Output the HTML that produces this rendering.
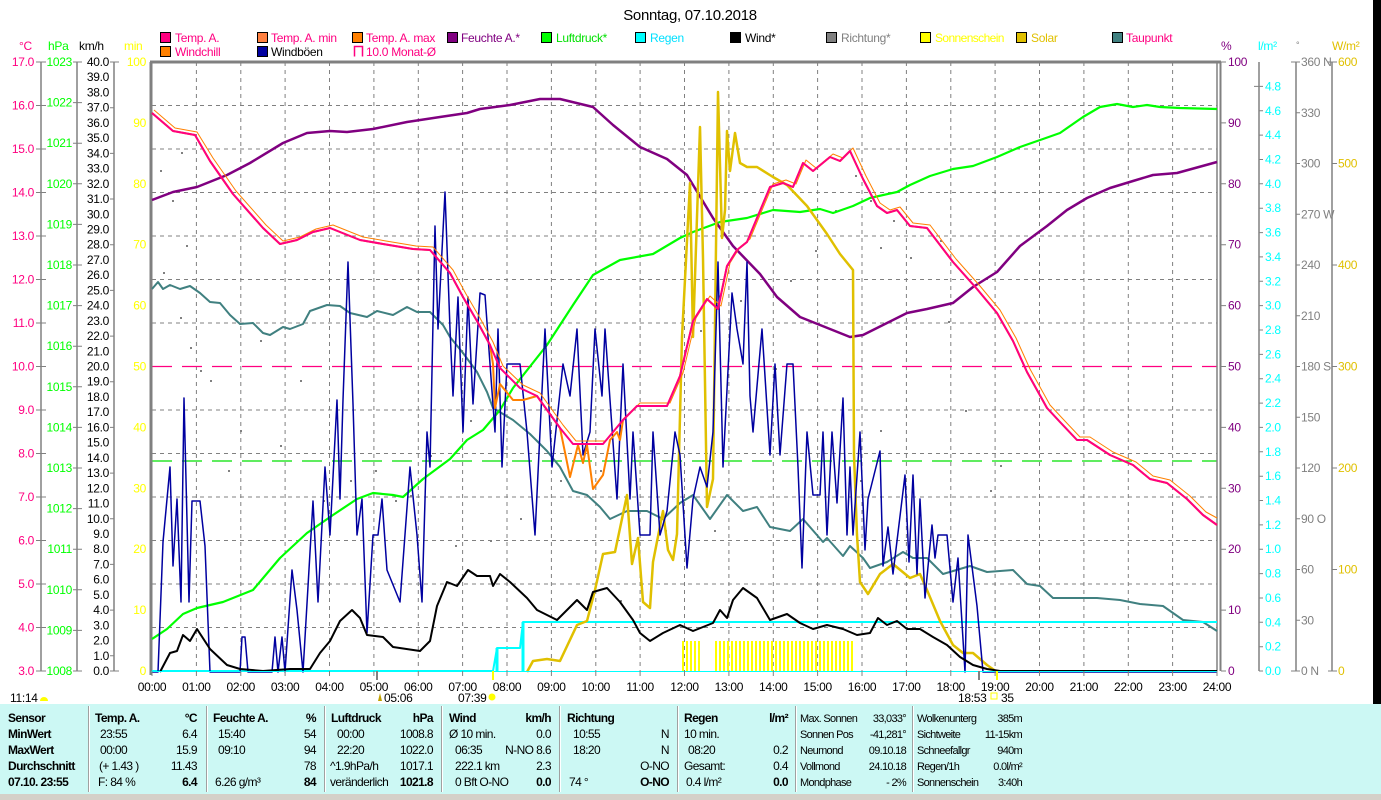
<!DOCTYPE html>
<html><head><meta charset="utf-8"><style>
html,body{margin:0;padding:0;background:#fff}
svg{display:block;font-family:"Liberation Sans",sans-serif;letter-spacing:-0.3px}
.tb{letter-spacing:-0.6px}
</style></head><body>
<svg width="1381" height="800" viewBox="0 0 1381 800" xmlns="http://www.w3.org/2000/svg">
<rect width="1381" height="800" fill="#fff"/>
<rect x="1373" y="0" width="8" height="704" fill="#000"/>
<text x="690" y="20" font-size="15" text-anchor="middle" fill="#000">Sonntag, 07.10.2018</text>

<!-- legend -->
<g font-size="12">
<rect x="160.5" y="32.5" width="10" height="10" fill="#FF0080" stroke="#000"/><text x="175" y="42" fill="#FF0080">Temp. A.</text>
<rect x="257.5" y="32.5" width="10" height="10" fill="#FF8040" stroke="#000"/><text x="271" y="42" fill="#FF0080">Temp. A. min</text>
<rect x="352.5" y="32.5" width="10" height="10" fill="#FF8000" stroke="#000"/><text x="366" y="42" fill="#FF0080">Temp. A. max</text>
<rect x="447.5" y="32.5" width="10" height="10" fill="#800080" stroke="#000"/><text x="461" y="42" fill="#800080">Feuchte A.*</text>
<rect x="541.5" y="32.5" width="10" height="10" fill="#00FF00" stroke="#000"/><text x="556" y="42" fill="#00E000">Luftdruck*</text>
<rect x="635.5" y="32.5" width="10" height="10" fill="#00FFFF" stroke="#000"/><text x="650" y="42" fill="#00E0FF">Regen</text>
<rect x="730.5" y="32.5" width="10" height="10" fill="#000" stroke="#000"/><text x="745" y="42" fill="#000">Wind*</text>
<rect x="826.5" y="32.5" width="10" height="10" fill="#808080" stroke="#000"/><text x="841" y="42" fill="#808080">Richtung*</text>
<rect x="920.5" y="32.5" width="10" height="10" fill="#FFFF00" stroke="#000"/><text x="935" y="42" fill="#FFFF00" class="tb">Sonnenschein</text>
<rect x="1016.5" y="32.5" width="10" height="10" fill="#E0C000" stroke="#000"/><text x="1031" y="42" fill="#E0C000">Solar</text>
<rect x="1112.5" y="32.5" width="10" height="10" fill="#408080" stroke="#000"/><text x="1126" y="42" fill="#FF0080">Taupunkt</text>
<rect x="160.5" y="46.5" width="10" height="10" fill="#FF8000" stroke="#000"/><text x="175" y="56" fill="#FF0080">Windchill</text>
<rect x="257.5" y="46.5" width="10" height="10" fill="#0000A0" stroke="#000"/><text x="271" y="56" fill="#000">Windböen</text>
<path d="M354.5 56.5 V46.5 H362.5 V56.5" fill="none" stroke="#FF0080" stroke-width="1.5"/><text x="366" y="56" fill="#FF0080">10.0 Monat-Ø</text>
</g>

<!-- unit headers -->
<g font-size="12">
<text x="19" y="50" fill="#FF0080">°C</text>
<text x="48" y="50" fill="#00FF00">hPa</text>
<text x="79" y="50" fill="#000">km/h</text>
<text x="124" y="50" fill="#FFFF00">min</text>
<text x="1221" y="50" fill="#800080">%</text>
<text x="1258" y="50" fill="#00FFFF">l/m²</text>
<text x="1296" y="48" fill="#808080" font-size="9">°</text>
<text x="1332" y="50" fill="#E0C000">W/m²</text>
</g>

<!-- axis lines -->
<g stroke="#808080" stroke-width="1.5">
<line x1="41" y1="62" x2="41" y2="671"/>
<line x1="77" y1="62" x2="77" y2="671"/>
<line x1="114" y1="62" x2="114" y2="671"/>
<line x1="1259" y1="62" x2="1259" y2="671"/>
<line x1="1296" y1="62" x2="1296" y2="671"/>
<line x1="1332" y1="62" x2="1332" y2="671"/>
</g>

<!-- grid -->
<g stroke="#808080" stroke-width="1" stroke-dasharray="4,4">
<line x1="152" y1="105.5" x2="1217" y2="105.5"/><line x1="152" y1="149" x2="1217" y2="149"/>
<line x1="152" y1="192.5" x2="1217" y2="192.5"/><line x1="152" y1="236" x2="1217" y2="236"/>
<line x1="152" y1="279.5" x2="1217" y2="279.5"/><line x1="152" y1="323" x2="1217" y2="323"/>
<line x1="152" y1="410" x2="1217" y2="410"/><line x1="152" y1="453.5" x2="1217" y2="453.5"/>
<line x1="152" y1="497" x2="1217" y2="497"/><line x1="152" y1="540.5" x2="1217" y2="540.5"/>
<line x1="152" y1="584" x2="1217" y2="584"/><line x1="152" y1="627.5" x2="1217" y2="627.5"/>
<line x1="196.4" y1="62" x2="196.4" y2="671"/><line x1="240.8" y1="62" x2="240.8" y2="671"/>
<line x1="285.1" y1="62" x2="285.1" y2="671"/><line x1="329.5" y1="62" x2="329.5" y2="671"/>
<line x1="373.9" y1="62" x2="373.9" y2="671"/><line x1="418.3" y1="62" x2="418.3" y2="671"/>
<line x1="462.6" y1="62" x2="462.6" y2="671"/><line x1="507" y1="62" x2="507" y2="671"/>
<line x1="551.4" y1="62" x2="551.4" y2="671"/><line x1="595.8" y1="62" x2="595.8" y2="671"/>
<line x1="640.1" y1="62" x2="640.1" y2="671"/><line x1="684.5" y1="62" x2="684.5" y2="671"/>
<line x1="728.9" y1="62" x2="728.9" y2="671"/><line x1="773.3" y1="62" x2="773.3" y2="671"/>
<line x1="817.6" y1="62" x2="817.6" y2="671"/><line x1="862" y1="62" x2="862" y2="671"/>
<line x1="906.4" y1="62" x2="906.4" y2="671"/><line x1="950.8" y1="62" x2="950.8" y2="671"/>
<line x1="995.1" y1="62" x2="995.1" y2="671"/><line x1="1039.5" y1="62" x2="1039.5" y2="671"/>
<line x1="1083.9" y1="62" x2="1083.9" y2="671"/><line x1="1128.3" y1="62" x2="1128.3" y2="671"/>
<line x1="1172.6" y1="62" x2="1172.6" y2="671"/>
</g>
<line x1="152" y1="366.5" x2="1217" y2="366.5" stroke="#FF0080" stroke-width="1.2" stroke-dasharray="20,10"/>
<line x1="152" y1="461" x2="1217" y2="461" stroke="#00E000" stroke-width="1.2" stroke-dasharray="20,10"/>

<!-- frame -->
<g stroke="#808080">
<line x1="150" y1="62" x2="1221" y2="62" stroke-width="3"/>
<line x1="151" y1="62" x2="151" y2="675" stroke-width="3"/>
<line x1="1217" y1="62" x2="1217" y2="671" stroke-width="1.5"/>
<line x1="1220.5" y1="62" x2="1220.5" y2="671" stroke-width="2"/>
</g>

<!-- left tick labels -->
<g font-size="12" text-anchor="end">
<g fill="#FF0080">
<text x="34" y="66">17.0</text><text x="34" y="109.5">16.0</text><text x="34" y="153">15.0</text><text x="34" y="196.5">14.0</text><text x="34" y="240">13.0</text><text x="34" y="283.5">12.0</text><text x="34" y="327">11.0</text><text x="34" y="370.5">10.0</text><text x="34" y="414">9.0</text><text x="34" y="457.5">8.0</text><text x="34" y="501">7.0</text><text x="34" y="544.5">6.0</text><text x="34" y="588">5.0</text><text x="34" y="631.5">4.0</text><text x="34" y="675">3.0</text>
</g>
<g fill="#00FF00">
<text x="72" y="66">1023</text><text x="72" y="106.6">1022</text><text x="72" y="147.2">1021</text><text x="72" y="187.8">1020</text><text x="72" y="228.4">1019</text><text x="72" y="269">1018</text><text x="72" y="309.6">1017</text><text x="72" y="350.2">1016</text><text x="72" y="390.8">1015</text><text x="72" y="431.4">1014</text><text x="72" y="472">1013</text><text x="72" y="512.6">1012</text><text x="72" y="553.2">1011</text><text x="72" y="593.8">1010</text><text x="72" y="634.4">1009</text><text x="72" y="675">1008</text>
</g>
<g fill="#000">
<text x="109" y="66">40.0</text><text x="109" y="81.2">39.0</text><text x="109" y="96.5">38.0</text><text x="109" y="111.7">37.0</text><text x="109" y="126.9">36.0</text><text x="109" y="142.1">35.0</text><text x="109" y="157.4">34.0</text><text x="109" y="172.6">33.0</text><text x="109" y="187.8">32.0</text><text x="109" y="203">31.0</text><text x="109" y="218.3">30.0</text><text x="109" y="233.5">29.0</text><text x="109" y="248.7">28.0</text><text x="109" y="263.9">27.0</text><text x="109" y="279.2">26.0</text><text x="109" y="294.4">25.0</text><text x="109" y="309.6">24.0</text><text x="109" y="324.8">23.0</text><text x="109" y="340.1">22.0</text><text x="109" y="355.3">21.0</text><text x="109" y="370.5">20.0</text><text x="109" y="385.7">19.0</text><text x="109" y="401">18.0</text><text x="109" y="416.2">17.0</text><text x="109" y="431.4">16.0</text><text x="109" y="446.6">15.0</text><text x="109" y="461.9">14.0</text><text x="109" y="477.1">13.0</text><text x="109" y="492.3">12.0</text><text x="109" y="507.5">11.0</text><text x="109" y="522.8">10.0</text><text x="109" y="538">9.0</text><text x="109" y="553.2">8.0</text><text x="109" y="568.4">7.0</text><text x="109" y="583.7">6.0</text><text x="109" y="598.9">5.0</text><text x="109" y="614.1">4.0</text><text x="109" y="629.3">3.0</text><text x="109" y="644.6">2.0</text><text x="109" y="659.8">1.0</text><text x="109" y="675">0.0</text>
</g>
<g fill="#FFFF00">
<text x="146" y="66">100</text><text x="146" y="126.9">90</text><text x="146" y="187.8">80</text><text x="146" y="248.7">70</text><text x="146" y="309.6">60</text><text x="146" y="370.5">50</text><text x="146" y="431.4">40</text><text x="146" y="492.3">30</text><text x="146" y="553.2">20</text><text x="146" y="614.1">10</text><text x="146" y="675">0</text>
</g>
</g>
<g stroke="#808080" stroke-width="1">
<path d="M36 62h10M36 105.5h10M36 149h10M36 192.5h10M36 236h10M36 279.5h10M36 323h10M36 366.5h10M36 410h10M36 453.5h10M36 497h10M36 540.5h10M36 584h10M36 627.5h10M36 671h10"/>
<path d="M73 62h9M73 102.6h9M73 143.2h9M73 183.8h9M73 224.4h9M73 265h9M73 305.6h9M73 346.2h9M73 386.8h9M73 427.4h9M73 468h9M73 508.6h9M73 549.2h9M73 589.8h9M73 630.4h9M73 671h9"/>
<path d="M110 62h9M110 107.7h4M110 153.4h4M110 199h4M110 244.7h4M110 290.4h4M110 336.1h4M110 381.7h4M110 427.4h4M110 473.1h4M110 518.8h4M110 564.4h4M110 610.1h4M110 655.8h4M110 671h9"/>
</g>

<!-- right tick labels -->
<g font-size="12">
<g fill="#800080">
<text x="1228" y="66">100</text><text x="1228" y="126.9">90</text><text x="1228" y="187.8">80</text><text x="1228" y="248.7">70</text><text x="1228" y="309.6">60</text><text x="1228" y="370.5">50</text><text x="1228" y="431.4">40</text><text x="1228" y="492.3">30</text><text x="1228" y="553.2">20</text><text x="1228" y="614.1">10</text><text x="1228" y="675">0</text>
</g>
<g fill="#00FFFF">
<text x="1265" y="90.4">4.8</text><text x="1265" y="114.8">4.6</text><text x="1265" y="139.1">4.4</text><text x="1265" y="163.5">4.2</text><text x="1265" y="187.8">4.0</text><text x="1265" y="212.2">3.8</text><text x="1265" y="236.6">3.6</text><text x="1265" y="260.9">3.4</text><text x="1265" y="285.3">3.2</text><text x="1265" y="309.6">3.0</text><text x="1265" y="334">2.8</text><text x="1265" y="358.4">2.6</text><text x="1265" y="382.7">2.4</text><text x="1265" y="407.1">2.2</text><text x="1265" y="431.4">2.0</text><text x="1265" y="455.8">1.8</text><text x="1265" y="480.2">1.6</text><text x="1265" y="504.5">1.4</text><text x="1265" y="528.9">1.2</text><text x="1265" y="553.2">1.0</text><text x="1265" y="577.6">0.8</text><text x="1265" y="602">0.6</text><text x="1265" y="626.3">0.4</text><text x="1265" y="650.7">0.2</text><text x="1265" y="675">0.0</text>
</g>
<g fill="#808080">
<text x="1301" y="66">360 N</text><text x="1301" y="116.8">330</text><text x="1301" y="167.5">300</text><text x="1301" y="218.3">270 W</text><text x="1301" y="269">240</text><text x="1301" y="319.8">210</text><text x="1301" y="370.5">180 S</text><text x="1301" y="421.3">150</text><text x="1301" y="472">120</text><text x="1301" y="522.8">90  O</text><text x="1301" y="573.5">60</text><text x="1301" y="624.3">30</text><text x="1301" y="675">0   N</text>
</g>
<g fill="#E0C000">
<text x="1338" y="66">600</text><text x="1338" y="167.5">500</text><text x="1338" y="269">400</text><text x="1338" y="370.5">300</text><text x="1338" y="472">200</text><text x="1338" y="573.5">100</text><text x="1338" y="675">0</text>
</g>
</g>
<g stroke="#808080" stroke-width="1">
<path d="M1221 62h5M1221 122.9h5M1221 183.8h5M1221 244.7h5M1221 305.6h5M1221 366.5h5M1221 427.4h5M1221 488.3h5M1221 549.2h5M1221 610.1h5M1221 671h5"/>
<path d="M1254 86.4h9M1259 110.8h4M1259 135.1h4M1259 159.5h4M1259 183.8h4M1259 208.2h4M1259 232.6h4M1259 256.9h4M1259 281.3h4M1259 305.6h4M1259 330h4M1259 354.4h4M1259 378.7h4M1259 403.1h4M1259 427.4h4M1259 451.8h4M1259 476.2h4M1259 500.5h4M1259 524.9h4M1259 549.2h4M1259 573.6h4M1259 598h4M1259 622.3h4M1259 646.7h4M1259 671h4"/>
<path d="M1291 62h9M1296 112.75h4M1296 163.5h4M1296 214.25h4M1296 265h4M1296 315.75h4M1296 366.5h4M1296 417.25h4M1296 468h4M1296 518.75h4M1296 569.5h4M1296 620.25h4M1291 671h9"/>
<path d="M1328 62h9M1332 163.5h5M1332 265h5M1332 366.5h5M1332 468h5M1332 569.5h5M1328 671h9"/>
</g>

<!-- direction dots -->
<g fill="#808080">
<rect x="160" y="170" width="2" height="2"/><rect x="172" y="200" width="2" height="2"/><rect x="181" y="152" width="2" height="2"/><rect x="163" y="272" width="2" height="2"/><rect x="186" y="245" width="2" height="2"/><rect x="180" y="317" width="2" height="2"/><rect x="190" y="347" width="2" height="2"/><rect x="200" y="370" width="2" height="2"/><rect x="210" y="380" width="2" height="2"/><rect x="228" y="470" width="2" height="2"/><rect x="240" y="430" width="2" height="2"/><rect x="260" y="340" width="2" height="2"/><rect x="280" y="445" width="2" height="2"/><rect x="300" y="380" width="2" height="2"/><rect x="323" y="500" width="2" height="2"/><rect x="350" y="480" width="2" height="2"/><rect x="375" y="470" width="2" height="2"/><rect x="395" y="500" width="2" height="2"/><rect x="410" y="495" width="2" height="2"/><rect x="430" y="455" width="2" height="2"/><rect x="455" y="545" width="2" height="2"/><rect x="470" y="420" width="2" height="2"/><rect x="490" y="540" width="2" height="2"/><rect x="520" y="518" width="2" height="2"/><rect x="560" y="480" width="2" height="2"/><rect x="600" y="470" width="2" height="2"/><rect x="620" y="600" width="2" height="2"/><rect x="650" y="450" width="2" height="2"/><rect x="665" y="530" width="2" height="2"/><rect x="700" y="330" width="2" height="2"/><rect x="714" y="530" width="2" height="2"/><rect x="740" y="300" width="2" height="2"/><rect x="775" y="368" width="2" height="2"/><rect x="790" y="280" width="2" height="2"/><rect x="815" y="250" width="2" height="2"/><rect x="835" y="210" width="2" height="2"/><rect x="855" y="175" width="2" height="2"/><rect x="870" y="200" width="2" height="2"/><rect x="880" y="247" width="2" height="2"/><rect x="893" y="220" width="2" height="2"/><rect x="910" y="257" width="2" height="2"/><rect x="940" y="240" width="2" height="2"/><rect x="948" y="321" width="2" height="2"/><rect x="965" y="410" width="2" height="2"/><rect x="990" y="490" width="2" height="2"/><rect x="1000" y="465" width="2" height="2"/><rect x="860" y="480" width="2" height="2"/><rect x="880" y="430" width="2" height="2"/>
</g>

<!-- sunshine bars -->
<g stroke="#FFFF00" stroke-width="2">
<path d="M683 641v30M687 641v30M691 641v30M695 641v30M699 641v30M716 641v30M720 641v30M724 641v30M728 641v30M732 641v30M736 641v30M740 641v30M744 641v30M748 641v30M752 641v30M756 641v30M760 641v30M764 641v30M768 641v30M772 641v30M776 641v30M780 641v30M784 641v30M788 641v30M792 641v30M796 641v30M800 641v30M804 641v30M808 641v30M812 641v30M816 641v30M820 641v30M824 641v30M828 641v30M832 641v30M836 641v30M840 641v30M844 641v30M848 641v30M852 641v30"/>
</g>

<!-- series -->
<g fill="none" stroke-linejoin="round">
<polyline stroke="#408080" stroke-width="2" points="152,289 158,282 163,289 170,285 180,289 190,286 200,293 210,302 220,303 230,315 240,324 253,323 263,333 270,335 283,327 290,329 303,324 310,311 327,305 340,306 350,313 367,317 377,311 393,315 407,307 417,312 430,312 443,325 450,337 463,353 477,372 487,392 493,408 513,420 530,434 547,451 560,467 573,491 587,495 600,507 610,519 627,511 647,511 663,519 680,503 693,495 710,519 727,495 743,511 757,507 770,527 790,531 803,519 823,542 827,538 843,556 850,546 863,558 870,568 887,562 903,552 913,558 927,558 943,574 970,566 987,572 1013,570 1027,584 1040,586 1053,598 1073,598 1097,598 1120,600 1140,604 1163,606 1183,620 1203,622 1217,631"/>
<polyline stroke="#00FF00" stroke-width="2.2" points="152,639 167,629 183,614 197,608 223,602 253,590 280,558 307,533 333,515 357,499 373,493 393,495 403,497 423,479 450,459 467,440 483,430 500,410 513,388 547,345 573,305 593,275 620,260 653,254 680,238 693,232 720,222 747,218 773,210 800,212 820,209 833,213 853,206 870,198 897,192 910,185 930,176 953,169 973,166 997,157 1020,147 1043,139 1060,133 1083,117 1100,107 1117,104 1133,107 1147,105 1160,107 1180,108 1217,109"/>
<polyline stroke="#800080" stroke-width="2.5" points="152,200 173,192 197,187 227,175 250,163 283,143 307,133 330,131 347,132 373,129 407,122 440,117 467,113 480,109 510,105 540,99 560,99 593,107 613,125 640,147 667,159 687,175 713,218 733,246 760,274 777,297 800,317 820,325 850,337 863,335 887,323 907,313 927,309 953,303 973,287 997,272 1020,246 1047,226 1067,210 1087,198 1110,188 1133,181 1153,175 1177,173 1217,162"/>
<polyline stroke="#00FFFF" stroke-width="2" points="152,671 493,671 497,648 520,648 523,622 1217,622"/>
<path d="M497 671V648M523 671V622" stroke="#00FFFF" stroke-width="3"/>
<polyline stroke="#E0C000" stroke-width="2.5" points="527,672 533,661 547,659 560,661 577,625 587,621 595,590 603,554 615,552 627,495 632,564 638,538 643,602 650,608 653,562 663,511 668,550 673,560 677,534 682,337 690,183 693,337 700,127 703,258 707,507 713,479 718,92 722,238 725,210 727,131 730,171 735,133 740,163 747,167 757,167 773,177 787,185 807,206 827,234 840,254 853,270 854,455 857,535 860,582 868,594 880,574 893,564 910,578 920,574 927,590 940,621 953,645 963,653 973,653 987,665 997,672"/>
<polyline stroke="#0000A0" stroke-width="1.5" points="152,672 158,672 163,542 170,467 173,566 177,499 181,602 184,398 189,602 192,501 200,501 205,546 210,672 240,672 242,637 245,637 248,672 272,672 275,637 278,672 282,637 285,672 292,570 297,610 303,672 313,501 318,602 325,467 330,535 337,400 340,499 343,400 348,262 353,404 357,535 362,499 367,633 373,535 378,535 382,499 387,570 400,602 410,467 417,535 422,602 427,432 430,467 435,226 438,329 445,192 450,329 453,396 458,297 463,432 468,297 473,404 480,293 485,295 490,364 495,432 498,329 502,467 507,364 513,364 520,364 527,432 535,535 545,329 552,467 563,364 570,396 577,329 583,455 590,432 595,329 602,396 605,329 617,499 623,364 630,499 633,432 640,535 650,535 653,432 660,535 667,511 675,432 680,455 687,568 693,499 700,467 707,487 713,432 718,262 723,467 732,293 737,329 743,364 747,262 750,396 753,432 762,329 770,455 775,364 780,455 787,364 793,364 798,467 802,568 807,432 813,495 820,495 823,432 827,535 832,432 837,503 843,398 847,535 850,467 853,535 860,432 865,550 868,499 880,451 883,566 888,527 893,574 905,475 909,562 913,475 917,574 920,499 925,598 932,525 935,558 938,535 947,535 953,602 958,558 965,672 968,535 977,606 983,672 1217,672"/>
<polyline stroke="#000" stroke-width="2" points="160,672 170,653 177,651 183,635 190,641 197,629 210,649 227,665 240,669 263,671 290,669 310,669 320,653 330,641 340,621 352,610 360,618 367,635 383,637 393,647 420,651 430,641 437,606 447,582 457,586 468,570 477,576 490,576 493,586 500,574 510,582 527,598 537,610 557,620 577,600 587,610 593,592 607,588 620,602 633,620 640,633 650,641 663,633 680,625 693,631 713,623 720,610 727,618 733,600 743,588 757,598 770,620 787,614 800,623 813,629 827,625 843,629 857,635 870,633 878,618 887,625 897,621 907,629 920,629 933,637 947,645 960,657 973,665 987,669 1000,671 1217,671"/>
<polyline stroke="#FF8000" stroke-width="2" points="152,113 173,131 195,135 210,161 233,194 263,228 280,244 297,240 313,232 330,228 340,232 360,240 383,244 413,249 430,250 450,273 463,297 477,321 490,345 493,364 495,408 500,384 513,400 523,400 537,396 560,428 570,477 578,445 583,463 587,445 593,489 603,475 610,440 617,432 620,440 623,420 637,406 667,406 680,376 693,321 707,299 718,309 727,266 737,250 747,242 757,218 770,187 783,183 793,187 803,163 813,171 830,157 840,161 850,151 863,179 877,206 887,213 897,210 910,226 927,228 953,262 977,289 997,313 1013,341 1027,372 1047,408 1060,422 1077,440 1087,440 1110,455 1133,465 1150,479 1167,483 1187,499 1203,515 1217,525"/>
<polyline stroke="#FF8000" stroke-width="1" points="154,110 175,128 197,132 213,158 236,191 266,225 283,241 300,237 316,229 333,225 343,229 363,237 386,241 416,246 433,247 453,270 466,294 480,318 493,342 503,366 523,385 540,393 563,425 576,441 606,441 626,417 640,403 670,403 683,373 696,318 710,296 721,306 730,263 740,247 750,239 760,215 773,184 786,180 796,184 806,160 816,168 833,154 843,158 853,148 866,176 880,203 890,210 900,207 913,223 930,225 956,259 980,286 1000,310 1016,338 1030,369 1050,405 1063,419 1080,437 1090,437 1113,452 1136,462 1153,476 1170,480 1190,496 1206,512 1217,518"/>
<polyline stroke="#FF0080" stroke-width="2" points="152,113 173,131 195,135 210,161 233,194 263,228 280,244 297,240 313,232 330,228 340,232 360,240 383,244 413,249 430,250 450,273 463,297 477,321 490,345 500,368 520,388 537,396 560,428 573,444 603,444 623,420 637,406 667,406 680,376 693,321 707,299 718,309 727,266 737,250 747,242 757,218 770,187 783,183 793,187 803,163 813,171 830,157 840,161 850,151 863,179 877,206 887,213 897,210 910,226 927,228 953,262 977,289 997,313 1013,341 1027,372 1047,408 1060,422 1077,440 1087,440 1110,455 1133,465 1150,479 1167,483 1187,499 1203,515 1217,525"/>
</g>

<!-- x axis -->
<line x1="151" y1="671.5" x2="1217" y2="671.5" stroke="#00FFFF" stroke-width="1"/>
<g stroke="#808080" stroke-width="1">
<path d="M152 671v5M196.4 671v5M240.8 671v5M285.1 671v5M329.5 671v5M373.9 671v5M418.3 671v5M462.6 671v5M507 671v5M551.4 671v5M595.8 671v5M640.1 671v5M684.5 671v5M728.9 671v5M773.3 671v5M817.6 671v5M862 671v5M906.4 671v5M950.8 671v5M995.1 671v5M1039.5 671v5M1083.9 671v5M1128.3 671v5M1172.6 671v5M1217 671v5"/>
</g>
<path d="M377 671v9M979 671v9" stroke="#808080" stroke-width="2"/>
<path d="M493 671v9M997 671v9" stroke="#FFFF00" stroke-width="2"/>
<g font-size="12" text-anchor="middle" fill="#000">
<text x="152" y="691">00:00</text><text x="196.4" y="691">01:00</text><text x="240.8" y="691">02:00</text><text x="285.1" y="691">03:00</text><text x="329.5" y="691">04:00</text><text x="373.9" y="691">05:00</text><text x="418.3" y="691">06:00</text><text x="462.6" y="691">07:00</text><text x="507" y="691">08:00</text><text x="551.4" y="691">09:00</text><text x="595.8" y="691">10:00</text><text x="640.1" y="691">11:00</text><text x="684.5" y="691">12:00</text><text x="728.9" y="691">13:00</text><text x="773.3" y="691">14:00</text><text x="817.6" y="691">15:00</text><text x="862" y="691">16:00</text><text x="906.4" y="691">17:00</text><text x="950.8" y="691">18:00</text><text x="995.1" y="691">19:00</text><text x="1039.5" y="691">20:00</text><text x="1083.9" y="691">21:00</text><text x="1128.3" y="691">22:00</text><text x="1172.6" y="691">23:00</text><text x="1217" y="691">24:00</text>
</g>
<g font-size="12" fill="#000">
<text x="10" y="702">11:14</text>
<path d="M40 701a4 4 0 0 1 8 0z" fill="#FFFF00"/>
<path d="M380 693l-2 8h4z" fill="#C0A000"/>
<text x="384" y="702">05:06</text>
<text x="458" y="702">07:39</text>
<circle cx="492" cy="697" r="3.5" fill="#FFFF00"/>
<text x="958" y="702">18:53</text>
<rect x="991" y="693" width="6" height="6" fill="none" stroke="#FFFF00"/>
<text x="1001" y="702">35</text>
</g>

<!-- table -->
<rect x="0" y="704" width="1381" height="90" fill="#CCF8F4"/>
<rect x="0" y="794" width="1381" height="6" fill="#D4D0C8"/>
<g stroke="#A0A0A0" stroke-width="1">
<path d="M88.5 706v86M206.5 706v86M324.5 706v86M441.5 706v86M559.5 706v86M677.5 706v86M795.5 706v86M912.5 706v86"/>
</g>
<g stroke="#fff" stroke-width="1"><path d="M89.5 706v86M207.5 706v86M325.5 706v86M442.5 706v86M560.5 706v86M678.5 706v86M796.5 706v86M913.5 706v86"/></g>
<g font-size="12" fill="#000" class="tb">
<g font-weight="bold">
<text x="8" y="722">Sensor</text><text x="8" y="738">MinWert</text><text x="8" y="754">MaxWert</text><text x="8" y="770">Durchschnitt</text><text x="8" y="786">07.10. 23:55</text>
<text x="95" y="722">Temp. A.</text><text x="213" y="722">Feuchte A.</text><text x="331" y="722">Luftdruck</text><text x="449" y="722">Wind</text><text x="567" y="722">Richtung</text><text x="684" y="722">Regen</text>
</g>
<g font-weight="bold" text-anchor="end">
<text x="197" y="722">°C</text><text x="316" y="722">%</text><text x="433" y="722">hPa</text><text x="551" y="722">km/h</text><text x="788" y="722">l/m²</text>
<text x="197" y="786">6.4</text><text x="316" y="786">84</text><text x="433" y="786">1021.8</text><text x="551" y="786">0.0</text><text x="669" y="786">O-NO</text><text x="788" y="786">0.0</text>
</g>
<text x="100" y="738">23:55</text><text x="100" y="754">00:00</text><text x="99" y="770">(+ 1.43 )</text><text x="98" y="786">F: 84 %</text>
<text x="218" y="738">15:40</text><text x="218" y="754">09:10</text><text x="215" y="786">6.26 g/m³</text>
<text x="337" y="738">00:00</text><text x="337" y="754">22:20</text><text x="330" y="770">^1.9hPa/h</text><text x="330" y="786">veränderlich</text>
<text x="449" y="738">Ø 10 min.</text><text x="455" y="754">06:35</text><text x="455" y="770">222.1 km</text><text x="455" y="786">0 Bft O-NO</text>
<text x="573" y="738">10:55</text><text x="573" y="754">18:20</text><text x="569" y="786">74 °</text>
<text x="684" y="738">10 min.</text><text x="688" y="754">08:20</text><text x="684" y="770">Gesamt:</text><text x="686" y="786">0.4 l/m²</text>
<g text-anchor="end">
<text x="197" y="738">6.4</text><text x="197" y="754">15.9</text><text x="197" y="770">11.43</text>
<text x="316" y="738">54</text><text x="316" y="754">94</text><text x="316" y="770">78</text>
<text x="433" y="738">1008.8</text><text x="433" y="754">1022.0</text><text x="433" y="770">1017.1</text>
<text x="551" y="738">0.0</text><text x="551" y="754">N-NO 8.6</text><text x="551" y="770">2.3</text>
<text x="669" y="738">N</text><text x="669" y="754">N</text><text x="669" y="770">O-NO</text>
<text x="788" y="754">0.2</text><text x="788" y="770">0.4</text>
</g>
<g font-size="11" letter-spacing="-0.7">
<text x="800" y="722">Max. Sonnen</text><text x="800" y="738">Sonnen Pos</text><text x="800" y="754">Neumond</text><text x="800" y="770">Vollmond</text><text x="800" y="786">Mondphase</text>
<text x="917" y="722">Wolkenunterg</text><text x="917" y="738">Sichtweite</text><text x="917" y="754">Schneefallgr</text><text x="917" y="770">Regen/1h</text><text x="917" y="786">Sonnenschein</text>
<g text-anchor="end">
<text x="906" y="722">33,033°</text><text x="906" y="738">-41,281°</text><text x="906" y="754">09.10.18</text><text x="906" y="770">24.10.18</text><text x="906" y="786">- 2%</text>
<text x="1022" y="722">385m</text><text x="1022" y="738">11-15km</text><text x="1022" y="754">940m</text><text x="1022" y="770">0.0l/m²</text><text x="1022" y="786">3:40h</text>
</g>
</g>
</g>
</svg>
</body></html>
